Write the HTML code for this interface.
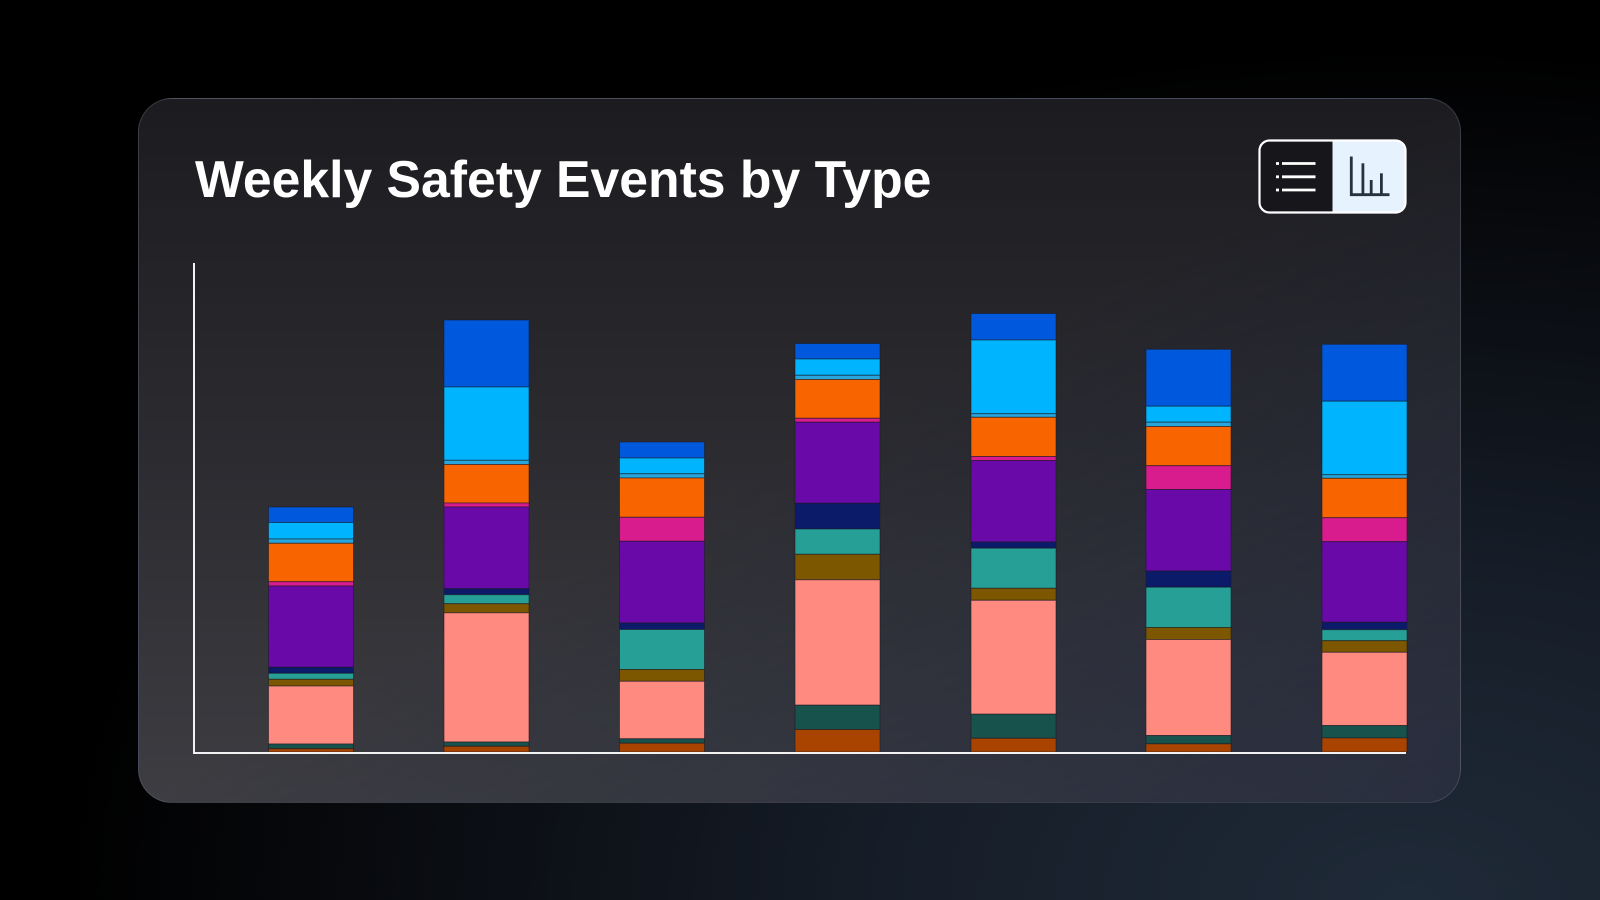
<!DOCTYPE html>
<html>
<head>
<meta charset="utf-8">
<style>
  html,body{margin:0;padding:0;}
  body{
    width:1600px;height:900px;overflow:hidden;position:relative;
    background:
      radial-gradient(ellipse 1500px 950px at 88% 100%, #1f2a38 0%, #161d28 35%, #080a0e 70%, #000 90%);
    font-family:"Liberation Sans", sans-serif;
  }
  .card{
    position:absolute;left:138px;top:98px;width:1321px;height:703px;
    border-radius:34px;
    border:1.5px solid rgba(130,140,160,0.30);
    background:
      linear-gradient(to bottom right, rgba(25,35,60,0) 50%, rgba(24,34,60,0.55) 100%),
      linear-gradient(to bottom, #1c1c20 0%, #2b2b30 50%, #3d3d42 100%);
  }
  svg{position:absolute;left:0;top:0;}
  .bl{fill:#0059dd}.sk{fill:#00b5fe}.th{fill:#27a6dc}.or{fill:#f76400}
  .mg{fill:#d81b8d}.pu{fill:#690aa8}.nv{fill:#0c1a6a}.te{fill:#26a096}
  .ol{fill:#7c5700}.sa{fill:#ff8a80}.dg{fill:#17524c}.br{fill:#a84300}
</style>
</head>
<body>
<div class="card"></div>
<svg width="1600" height="900" viewBox="0 0 1600 900" xmlns="http://www.w3.org/2000/svg">
  <text x="195" y="197" font-family="Liberation Sans, sans-serif" font-weight="bold" font-size="51.7" fill="#ffffff">Weekly Safety Events by Type</text>

  <!-- toggle -->
  <defs>
    <clipPath id="tg"><rect x="1259.5" y="140.5" width="146" height="72" rx="10"/></clipPath>
  </defs>
  <g clip-path="url(#tg)">
    <rect x="1259" y="140" width="73.5" height="73" fill="#16161b"/>
    <rect x="1332.5" y="140" width="74" height="73" fill="#e6f2fe"/>
  </g>
  <rect x="1259.5" y="140.5" width="146" height="72" rx="10" fill="none" stroke="#ffffff" stroke-width="2.2"/>
  <g stroke="#ffffff" stroke-width="2.8">
    <line x1="1276" y1="163.5" x2="1279" y2="163.5"/>
    <line x1="1282" y1="163.5" x2="1315.5" y2="163.5"/>
    <line x1="1276" y1="176.8" x2="1279" y2="176.8"/>
    <line x1="1282" y1="176.8" x2="1315.5" y2="176.8"/>
    <line x1="1276" y1="190" x2="1279" y2="190"/>
    <line x1="1282" y1="190" x2="1315.5" y2="190"/>
  </g>
  <g stroke="#27323c" stroke-width="2.8" fill="none">
    <path d="M1351.3 156.5 V194.7 H1389.5"/>
    <line x1="1362.9" y1="163.3" x2="1362.9" y2="194.7"/>
    <line x1="1371.2" y1="180" x2="1371.2" y2="194.7"/>
    <line x1="1381.4" y1="173.3" x2="1381.4" y2="194.7"/>
  </g>

  <!-- bars -->
  <g stroke="rgba(25,25,35,0.55)" stroke-width="1">
    <!-- bar 1 -->
    <rect class="bl" x="268.5" y="507" width="85" height="15.5"/>
    <rect class="sk" x="268.5" y="522.5" width="85" height="16.5"/>
    <rect class="th" x="268.5" y="539" width="85" height="4.3"/>
    <rect class="or" x="268.5" y="543.3" width="85" height="38.4"/>
    <rect class="mg" x="268.5" y="581.7" width="85" height="4.3"/>
    <rect class="pu" x="268.5" y="586" width="85" height="81.3"/>
    <rect class="nv" x="268.5" y="667.3" width="85" height="6"/>
    <rect class="te" x="268.5" y="673.3" width="85" height="6"/>
    <rect class="ol" x="268.5" y="679.3" width="85" height="6.7"/>
    <rect class="sa" x="268.5" y="686" width="85" height="58"/>
    <rect class="dg" x="268.5" y="744" width="85" height="4.7"/>
    <rect class="br" x="268.5" y="748.7" width="85" height="3.3"/>
    <!-- bar 2 -->
    <rect class="bl" x="444" y="320" width="85" height="67"/>
    <rect class="sk" x="444" y="387" width="85" height="73.3"/>
    <rect class="th" x="444" y="460.3" width="85" height="4.2"/>
    <rect class="or" x="444" y="464.5" width="85" height="38.5"/>
    <rect class="mg" x="444" y="503" width="85" height="4"/>
    <rect class="pu" x="444" y="507" width="85" height="81.7"/>
    <rect class="nv" x="444" y="588.7" width="85" height="6"/>
    <rect class="te" x="444" y="594.7" width="85" height="9"/>
    <rect class="ol" x="444" y="603.7" width="85" height="9.1"/>
    <rect class="sa" x="444" y="612.8" width="85" height="129.2"/>
    <rect class="dg" x="444" y="742" width="85" height="4.3"/>
    <rect class="br" x="444" y="746.3" width="85" height="5.7"/>
    <!-- bar 3 -->
    <rect class="bl" x="619.5" y="442" width="85" height="16"/>
    <rect class="sk" x="619.5" y="458" width="85" height="15.8"/>
    <rect class="th" x="619.5" y="473.8" width="85" height="4.2"/>
    <rect class="or" x="619.5" y="478" width="85" height="39.3"/>
    <rect class="mg" x="619.5" y="517.3" width="85" height="24"/>
    <rect class="pu" x="619.5" y="541.3" width="85" height="81.7"/>
    <rect class="nv" x="619.5" y="623" width="85" height="6.5"/>
    <rect class="te" x="619.5" y="629.5" width="85" height="40"/>
    <rect class="ol" x="619.5" y="669.5" width="85" height="11.8"/>
    <rect class="sa" x="619.5" y="681.3" width="85" height="57.5"/>
    <rect class="dg" x="619.5" y="738.8" width="85" height="4.4"/>
    <rect class="br" x="619.5" y="743.2" width="85" height="8.8"/>
    <!-- bar 4 -->
    <rect class="bl" x="795" y="343.5" width="85" height="15.5"/>
    <rect class="sk" x="795" y="359" width="85" height="16.3"/>
    <rect class="th" x="795" y="375.3" width="85" height="4.2"/>
    <rect class="or" x="795" y="379.5" width="85" height="38.8"/>
    <rect class="mg" x="795" y="418.3" width="85" height="3.9"/>
    <rect class="pu" x="795" y="422.2" width="85" height="81.1"/>
    <rect class="nv" x="795" y="503.3" width="85" height="25.7"/>
    <rect class="te" x="795" y="529" width="85" height="25.3"/>
    <rect class="ol" x="795" y="554.3" width="85" height="25.5"/>
    <rect class="sa" x="795" y="579.8" width="85" height="125.4"/>
    <rect class="dg" x="795" y="705.2" width="85" height="24.3"/>
    <rect class="br" x="795" y="729.5" width="85" height="22.5"/>
    <!-- bar 5 -->
    <rect class="bl" x="971" y="313.5" width="85" height="26.5"/>
    <rect class="sk" x="971" y="340" width="85" height="73.7"/>
    <rect class="th" x="971" y="413.7" width="85" height="3.6"/>
    <rect class="or" x="971" y="417.3" width="85" height="39.2"/>
    <rect class="mg" x="971" y="456.5" width="85" height="4"/>
    <rect class="pu" x="971" y="460.5" width="85" height="81.5"/>
    <rect class="nv" x="971" y="542" width="85" height="6.2"/>
    <rect class="te" x="971" y="548.2" width="85" height="40.1"/>
    <rect class="ol" x="971" y="588.3" width="85" height="12"/>
    <rect class="sa" x="971" y="600.3" width="85" height="113.9"/>
    <rect class="dg" x="971" y="714.2" width="85" height="24.1"/>
    <rect class="br" x="971" y="738.3" width="85" height="13.7"/>
    <!-- bar 6 -->
    <rect class="bl" x="1146" y="349.3" width="85" height="56.9"/>
    <rect class="sk" x="1146" y="406.2" width="85" height="16"/>
    <rect class="th" x="1146" y="422.2" width="85" height="4.3"/>
    <rect class="or" x="1146" y="426.5" width="85" height="39.2"/>
    <rect class="mg" x="1146" y="465.7" width="85" height="23.8"/>
    <rect class="pu" x="1146" y="489.5" width="85" height="81.5"/>
    <rect class="nv" x="1146" y="571" width="85" height="16.2"/>
    <rect class="te" x="1146" y="587.2" width="85" height="40.3"/>
    <rect class="ol" x="1146" y="627.5" width="85" height="12"/>
    <rect class="sa" x="1146" y="639.5" width="85" height="96"/>
    <rect class="dg" x="1146" y="735.5" width="85" height="8.3"/>
    <rect class="br" x="1146" y="743.8" width="85" height="8.2"/>
    <!-- bar 7 -->
    <rect class="bl" x="1322" y="344.3" width="85" height="56.9"/>
    <rect class="sk" x="1322" y="401.2" width="85" height="73.5"/>
    <rect class="th" x="1322" y="474.7" width="85" height="3.6"/>
    <rect class="or" x="1322" y="478.3" width="85" height="39.4"/>
    <rect class="mg" x="1322" y="517.7" width="85" height="24"/>
    <rect class="pu" x="1322" y="541.7" width="85" height="80.6"/>
    <rect class="nv" x="1322" y="622.3" width="85" height="7.4"/>
    <rect class="te" x="1322" y="629.7" width="85" height="11"/>
    <rect class="ol" x="1322" y="640.7" width="85" height="11.6"/>
    <rect class="sa" x="1322" y="652.3" width="85" height="73.2"/>
    <rect class="dg" x="1322" y="725.5" width="85" height="12.5"/>
    <rect class="br" x="1322" y="738" width="85" height="14"/>
  </g>

  <!-- axes -->
  <line x1="194" y1="263" x2="194" y2="754" stroke="#f2f2f2" stroke-width="2"/>
  <line x1="193" y1="753" x2="1406" y2="753" stroke="#f2f2f2" stroke-width="2"/>
</svg>
</body>
</html>
